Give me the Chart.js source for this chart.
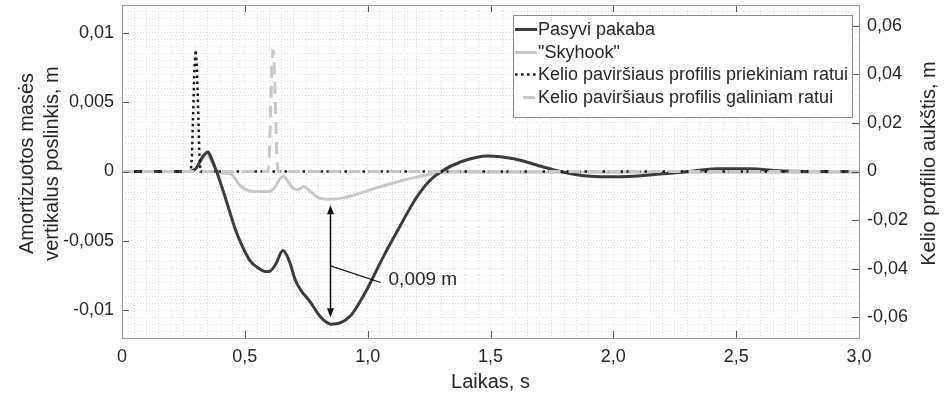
<!DOCTYPE html>
<html>
<head>
<meta charset="utf-8">
<script src="https://cdn.jsdelivr.net/npm/chart.js@4.4.1/dist/chart.umd.min.js"></script>
<style>
  html, body { margin: 0; padding: 0; background: #fff; }
  canvas { display: block; }
</style>
</head>
<body>
<canvas id="c" width="947" height="398"></canvas>
<script>
// Sprung-mass vertical displacement (m) over time (s)
const passiveT = [0, 0.27, 0.30, 0.33, 0.35, 0.365, 0.385, 0.41, 0.435, 0.46, 0.49, 0.52, 0.55, 0.585, 0.60, 0.625, 0.655, 0.68, 0.705, 0.726, 0.766, 0.80, 0.82, 0.85, 0.89, 0.93, 0.965, 1.0, 1.065, 1.133, 1.194, 1.25, 1.30, 1.38, 1.49, 1.60, 1.70, 1.785, 1.89, 1.98, 2.08, 2.22, 2.31, 2.42, 2.55, 2.70, 2.85, 3.0];
const passiveY = [0, 0, 0.0002, 0.0011, 0.0014, 0.0009, 0, -0.0013, -0.0027, -0.0041, -0.0054, -0.0064, -0.0069, -0.0072, -0.0072, -0.0067, -0.0057, -0.0064, -0.0078, -0.0085, -0.0094, -0.0103, -0.0107, -0.011, -0.0109, -0.0104, -0.0095, -0.0084, -0.0061, -0.0039, -0.002, -0.0007, 0, 0.0007, 0.00112, 0.0009, 0.0004, 0, -0.00033, -0.00038, -0.00034, -0.00014, 0, 0.0002, 0.0002, 0.00003, 0, 0];

const skyhookT = [0, 0.27, 0.30, 0.33, 0.345, 0.36, 0.38, 0.40, 0.44, 0.46, 0.48, 0.52, 0.56, 0.60, 0.62, 0.64, 0.658, 0.675, 0.695, 0.715, 0.74, 0.765, 0.80, 0.85, 0.90, 0.98, 1.05, 1.13, 1.21, 1.28, 1.36, 1.5, 3.0];
const skyhookY = [0, 0, 0.0002, 0.001, 0.0013, 0.0009, 0.0002, -0.0001, -0.00015, -0.0005, -0.001, -0.0014, -0.00145, -0.00145, -0.0012, -0.0006, -0.00034, -0.0007, -0.0012, -0.0013, -0.0011, -0.0014, -0.0019, -0.002, -0.0019, -0.0015, -0.0011, -0.0007, -0.00035, -0.00012, -0.00004, -0.00005, -0.00005];

// Road profile height (m) under the front and rear wheels
const frontT = [0, 0.28, 0.285, 0.29, 0.295, 0.30, 0.305, 0.31, 0.315, 0.32, 3.0];
const frontY = [0, 0, 0.007, 0.025, 0.043, 0.05, 0.043, 0.025, 0.007, 0, 0];
const rearT = [0, 0.595, 0.60, 0.605, 0.61, 0.615, 0.62, 0.625, 0.63, 0.635, 3.0];
const rearY = [0, 0, 0.007, 0.025, 0.043, 0.05, 0.043, 0.025, 0.007, 0, 0];

const seriesLabels = ['Pasyvi pakaba', '"Skyhook"', 'Kelio paviršiaus profilis priekiniam ratui', 'Kelio paviršiaus profilis galiniam ratui'];

// Axis ranges and tick steps
const xRange = [0, 3.0], xMajor = 0.5, xMinor = 0.05;
const yRange = [-0.012, 0.012], yMajor = 0.005, yMinor = 0.0005;
const y2Range = [-0.0685, 0.0685], y2Major = 0.02;

// Peak-to-peak difference marked by the arrow
const gapTime = 0.845;
const gapTop = -0.002;    // "Skyhook" minimum
const gapBottom = -0.011; // passive minimum
const gapLabel = (gapTop - gapBottom).toFixed(3).replace('.', ',') + ' m';

const zip = (ts, ys) => ts.map((t, i) => ({ x: t, y: ys[i] }));
const isMajor = (v, step) => Math.abs(v / step - Math.round(v / step)) < 1e-6;
const comma = (v) => String(parseFloat(v.toFixed(4))).replace('.', ',');

const FONT = '"Liberation Sans", Arial, sans-serif';
const TXT = '#262626';
const GRID = '#dcdcdc';

const frameAndTicks = {
  id: 'frameAndTicks',
  afterDatasetsDraw(chart) {
    const { ctx, chartArea: a, scales } = chart;
    ctx.save();
    ctx.strokeStyle = '#555';
    ctx.lineWidth = 1;
    const L = 7;
    ctx.beginPath();
    scales.x.ticks.forEach(t => {
      if (!isMajor(t.value, xMajor)) return;
      const px = Math.round(scales.x.getPixelForValue(t.value)) + 0.5;
      ctx.moveTo(px, a.bottom); ctx.lineTo(px, a.bottom - L);
      ctx.moveTo(px, a.top); ctx.lineTo(px, a.top + L);
    });
    scales.y.ticks.forEach(t => {
      if (!isMajor(t.value, yMajor)) return;
      const py = Math.round(scales.y.getPixelForValue(t.value)) + 0.5;
      ctx.moveTo(a.left, py); ctx.lineTo(a.left + L, py);
    });
    scales.y2.ticks.forEach(t => {
      if (!isMajor(t.value, y2Major)) return;
      const py = Math.round(scales.y2.getPixelForValue(t.value)) + 0.5;
      ctx.moveTo(a.right, py); ctx.lineTo(a.right - L, py);
    });
    ctx.stroke();
    ctx.strokeStyle = '#9a9a9a';
    ctx.strokeRect(Math.round(a.left) + 0.5, Math.round(a.top) + 0.5,
                   Math.round(a.right - a.left), Math.round(a.bottom - a.top));
    ctx.restore();
  }
};

const gapArrow = {
  id: 'gapArrow',
  afterDatasetsDraw(chart) {
    const { ctx, scales: { x, y } } = chart;
    const ax = Math.round(x.getPixelForValue(gapTime)) + 0.5;
    const y1 = y.getPixelForValue(gapTop) + 6;
    const y2 = y.getPixelForValue(gapBottom) - 7;
    ctx.save();
    ctx.strokeStyle = '#111';
    ctx.fillStyle = '#111';
    ctx.lineWidth = 1.5;
    ctx.beginPath();
    ctx.moveTo(ax, y1 + 6); ctx.lineTo(ax, y2 - 6);
    ctx.stroke();
    ctx.beginPath();
    ctx.moveTo(ax, y1); ctx.lineTo(ax - 3.5, y1 + 9); ctx.lineTo(ax + 3.5, y1 + 9); ctx.closePath();
    ctx.moveTo(ax, y2); ctx.lineTo(ax - 3.5, y2 - 9); ctx.lineTo(ax + 3.5, y2 - 9); ctx.closePath();
    ctx.fill();
    // leader to the label
    const ly = y.getPixelForValue(-0.0068);
    const ex = x.getPixelForValue(1.053), ey = y.getPixelForValue(-0.008);
    ctx.lineWidth = 1.3;
    ctx.beginPath();
    ctx.moveTo(ax, ly); ctx.lineTo(ex, ey);
    ctx.stroke();
    ctx.font = '19px ' + FONT;
    ctx.fillStyle = TXT;
    ctx.textAlign = 'left';
    ctx.textBaseline = 'middle';
    ctx.fillText(gapLabel, x.getPixelForValue(1.085), y.getPixelForValue(-0.0078));
    ctx.restore();
  }
};

const titlesAndLegend = {
  id: 'titlesAndLegend',
  afterDraw(chart) {
    const { ctx, chartArea: a } = chart;
    const midY = (a.top + a.bottom) / 2;
    ctx.save();
    ctx.fillStyle = TXT;
    ctx.font = '20px ' + FONT;
    ctx.textAlign = 'center';
    ctx.textBaseline = 'middle';
    // left axis title (two lines)
    ctx.save();
    ctx.translate(27, midY - 8); ctx.rotate(-Math.PI / 2);
    ctx.fillText('Amortizuotos masės', 0, 0);
    ctx.restore();
    ctx.save();
    ctx.translate(52, midY - 8); ctx.rotate(-Math.PI / 2);
    ctx.fillText('vertikalus poslinkis, m', 0, 0);
    ctx.restore();
    // right axis title
    ctx.save();
    ctx.translate(929, midY - 8); ctx.rotate(-Math.PI / 2);
    ctx.fillText('Kelio profilio aukštis, m', 0, 0);
    ctx.restore();
    // x axis title
    ctx.fillText('Laikas, s', (a.left + a.right) / 2, 382);

    // legend box
    const bx = 513.5, by = 15.5, bw = 339, bh = 102;
    ctx.fillStyle = '#fff';
    ctx.fillRect(bx, by, bw, bh);
    ctx.strokeStyle = '#8a8a8a';
    ctx.lineWidth = 1;
    ctx.strokeRect(bx, by, bw, bh);
    ctx.font = '18px ' + FONT;
    ctx.textAlign = 'left';
    const rows = [29, 52, 74, 97];
    chart.data.datasets.forEach((ds, i) => {
      const ry = rows[i];
      ctx.save();
      ctx.strokeStyle = ds.borderColor;
      ctx.lineWidth = ds.borderWidth;
      ctx.setLineDash(ds.borderDash || []);
      ctx.lineDashOffset = ds.legendDashOffset || 0;
      ctx.beginPath();
      ctx.moveTo(515, ry + 0.5); ctx.lineTo(537, ry + 0.5);
      ctx.stroke();
      ctx.restore();
      ctx.fillStyle = TXT;
      ctx.fillText(ds.label, 538, ry + 1);
    });
    ctx.restore();
  }
};

new Chart(document.getElementById('c'), {
  type: 'line',
  data: {
    datasets: [
      { label: seriesLabels[0], data: zip(passiveT, passiveY), yAxisID: 'y',
        borderColor: '#3c3c3c', borderWidth: 3, cubicInterpolationMode: 'monotone', order: 2 },
      { label: seriesLabels[1], data: zip(skyhookT, skyhookY), yAxisID: 'y',
        borderColor: '#c8c8c8', borderWidth: 3, cubicInterpolationMode: 'monotone', order: 3 },
      { label: seriesLabels[2], data: zip(frontT, frontY), yAxisID: 'y2',
        borderColor: '#1a1a1a', borderWidth: 2.5, borderDash: [2.5, 3.5], tension: 0, order: 1 },
      { label: seriesLabels[3], data: zip(rearT, rearY), yAxisID: 'y2',
        borderColor: '#c8c8c8', borderWidth: 3, borderDash: [12, 8], tension: 0, order: 0,
        legendDashOffset: -8 }
    ]
  },
  options: {
    responsive: false,
    devicePixelRatio: 1,
    animation: false,
    events: [],
    layout: { padding: { top: 5, left: 0, right: 0, bottom: 0 } },
    elements: { point: { radius: 0 }, line: { fill: false, borderCapStyle: 'butt' } },
    plugins: { legend: { display: false }, tooltip: { enabled: false } },
    scales: {
      x: {
        type: 'linear', min: xRange[0], max: xRange[1],
        afterFit: s => { s.height = 60; s.paddingLeft = 0; s.paddingRight = 0; },
        ticks: {
          stepSize: xMinor, autoSkip: false, maxRotation: 0, padding: 8,
          color: TXT, font: { size: 18, family: FONT },
          callback: v => isMajor(v, xMajor) ? (v === 0 ? '0' : v.toFixed(1).replace('.', ',')) : ''
        },
        grid: { color: GRID, lineWidth: 1, drawTicks: false },
        border: { display: false, dash: [1, 2] }
      },
      y: {
        type: 'linear', position: 'left', min: yRange[0], max: yRange[1],
        afterFit: s => { s.width = 122; s.paddingTop = 0; s.paddingBottom = 0; },
        ticks: {
          stepSize: yMinor, autoSkip: false, padding: 8,
          color: TXT, font: { size: 18, family: FONT },
          callback: v => isMajor(v, yMajor) ? comma(v) : ''
        },
        grid: { color: GRID, lineWidth: 1, drawTicks: false },
        border: { display: false, dash: [1, 2] }
      },
      y2: {
        type: 'linear', position: 'right', min: y2Range[0], max: y2Range[1],
        afterFit: s => { s.width = 88; s.paddingTop = 0; s.paddingBottom = 0; },
        ticks: {
          stepSize: y2Major, autoSkip: false, includeBounds: false, padding: 8,
          color: TXT, font: { size: 18, family: FONT },
          callback: v => isMajor(v, y2Major) ? comma(v) : ''
        },
        grid: { drawOnChartArea: false, drawTicks: false },
        border: { display: false }
      }
    }
  },
  plugins: [frameAndTicks, gapArrow, titlesAndLegend]
});
</script>
</body>
</html>
